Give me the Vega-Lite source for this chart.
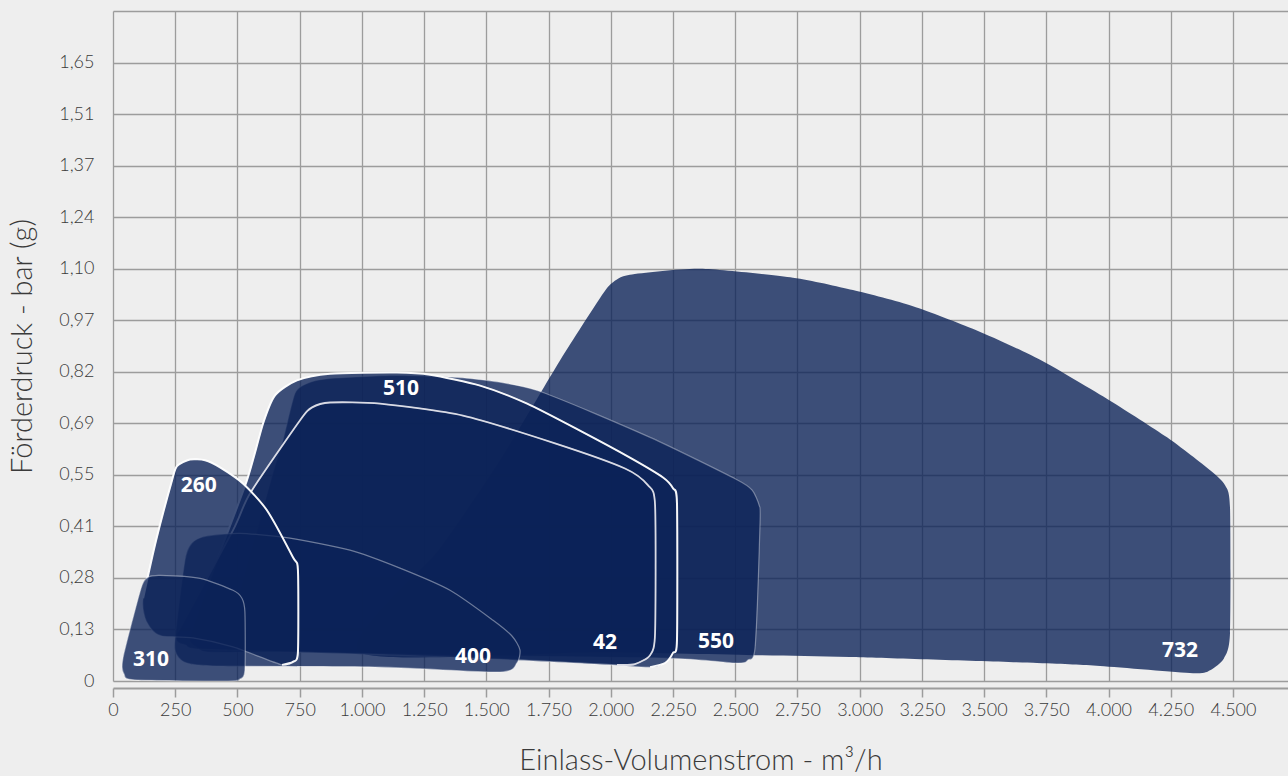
{
  "$schema": "https://vega.github.io/schema/vega-lite/v6.json",
  "width": 1175,
  "height": 670,
  "autosize": {"type": "none"},
  "padding": {"left": 113, "top": 11, "right": 0, "bottom": 95},
  "background": "#eeeeee",
  "config": {
    "view": {"stroke": null},
    "axis": {
      "labelFont": "Lato",
      "titleFont": "Lato",
      "labelColor": "#3a3a3a",
      "titleColor": "#3a3a3a",
      "gridColor": "#9c9c9c",
      "gridWidth": 1.3,
      "labelFontSize": 18,
      "labelFontWeight": 300,
      "titleFontSize": 29,
      "titleFontWeight": 300
    }
  },
  "datasets": {
    "shapes": [
      {"s": "732", "i": 1, "x": 992, "y": 0.077},
      {"s": "732", "i": 2, "x": 1314, "y": 0.354},
      {"s": "732", "i": 3, "x": 1555, "y": 0.589},
      {"s": "732", "i": 4, "x": 1796, "y": 0.855},
      {"s": "732", "i": 5, "x": 1957, "y": 1.022},
      {"s": "732", "i": 6, "x": 2005, "y": 1.062},
      {"s": "732", "i": 7, "x": 2077, "y": 1.084},
      {"s": "732", "i": 8, "x": 2359, "y": 1.1},
      {"s": "732", "i": 9, "x": 2732, "y": 1.076},
      {"s": "732", "i": 10, "x": 2973, "y": 1.043},
      {"s": "732", "i": 11, "x": 3214, "y": 1.0},
      {"s": "732", "i": 12, "x": 3464, "y": 0.937},
      {"s": "732", "i": 13, "x": 3725, "y": 0.857},
      {"s": "732", "i": 14, "x": 4006, "y": 0.748},
      {"s": "732", "i": 15, "x": 4235, "y": 0.65},
      {"s": "732", "i": 16, "x": 4408, "y": 0.562},
      {"s": "732", "i": 17, "x": 4468, "y": 0.522},
      {"s": "732", "i": 18, "x": 4488, "y": 0.463},
      {"s": "732", "i": 19, "x": 4488, "y": 0.128},
      {"s": "732", "i": 20, "x": 4464, "y": 0.061},
      {"s": "732", "i": 21, "x": 4408, "y": 0.029},
      {"s": "732", "i": 22, "x": 4339, "y": 0.021},
      {"s": "732", "i": 23, "x": 3966, "y": 0.04},
      {"s": "732", "i": 24, "x": 3713, "y": 0.048},
      {"s": "732", "i": 25, "x": 2961, "y": 0.064},
      {"s": "732", "i": 26, "x": 2600, "y": 0.069},
      {"s": "732", "i": 27, "x": 1957, "y": 0.077},

      {"s": "550", "i": 1, "x": 462, "y": 0.109},
      {"s": "550", "i": 2, "x": 494, "y": 0.083},
      {"s": "550", "i": 3, "x": 591, "y": 0.08},
      {"s": "550", "i": 4, "x": 1354, "y": 0.069},
      {"s": "550", "i": 5, "x": 2226, "y": 0.061},
      {"s": "550", "i": 6, "x": 2507, "y": 0.048},
      {"s": "550", "i": 7, "x": 2551, "y": 0.056},
      {"s": "550", "i": 8, "x": 2580, "y": 0.091},
      {"s": "550", "i": 9, "x": 2600, "y": 0.429},
      {"s": "550", "i": 10, "x": 2596, "y": 0.469},
      {"s": "550", "i": 11, "x": 2568, "y": 0.509},
      {"s": "550", "i": 12, "x": 2507, "y": 0.537},
      {"s": "550", "i": 13, "x": 2158, "y": 0.65},
      {"s": "550", "i": 14, "x": 1704, "y": 0.775},
      {"s": "550", "i": 15, "x": 1434, "y": 0.807},
      {"s": "550", "i": 16, "x": 1141, "y": 0.815},
      {"s": "550", "i": 17, "x": 872, "y": 0.807},
      {"s": "550", "i": 18, "x": 780, "y": 0.794},
      {"s": "550", "i": 19, "x": 731, "y": 0.767},
      {"s": "550", "i": 20, "x": 683, "y": 0.642},
      {"s": "550", "i": 21, "x": 631, "y": 0.527},

      {"s": "510", "i": 1, "x": 2158, "y": 0.037},
      {"s": "510", "i": 2, "x": 2218, "y": 0.048},
      {"s": "510", "i": 3, "x": 2250, "y": 0.075},
      {"s": "510", "i": 4, "x": 2266, "y": 0.109},
      {"s": "510", "i": 5, "x": 2266, "y": 0.474},
      {"s": "510", "i": 6, "x": 2250, "y": 0.514},
      {"s": "510", "i": 7, "x": 2210, "y": 0.543},
      {"s": "510", "i": 8, "x": 2077, "y": 0.596},
      {"s": "510", "i": 9, "x": 1876, "y": 0.668},
      {"s": "510", "i": 10, "x": 1664, "y": 0.74},
      {"s": "510", "i": 11, "x": 1475, "y": 0.788},
      {"s": "510", "i": 12, "x": 1274, "y": 0.817},
      {"s": "510", "i": 13, "x": 1141, "y": 0.823},
      {"s": "510", "i": 14, "x": 872, "y": 0.82},
      {"s": "510", "i": 15, "x": 739, "y": 0.802},
      {"s": "510", "i": 16, "x": 651, "y": 0.762},
      {"s": "510", "i": 17, "x": 603, "y": 0.687},
      {"s": "510", "i": 18, "x": 538, "y": 0.535},
      {"s": "510", "i": 19, "x": 410, "y": 0.309},
      {"s": "510", "i": 20, "x": 309, "y": 0.123},
      {"s": "510", "i": 21, "x": 342, "y": 0.088},
      {"s": "510", "i": 22, "x": 398, "y": 0.077},
      {"s": "510", "i": 23, "x": 751, "y": 0.077},
      {"s": "510", "i": 24, "x": 1354, "y": 0.067},
      {"s": "510", "i": 25, "x": 1957, "y": 0.045},

      {"s": "42", "i": 1, "x": 2025, "y": 0.043},
      {"s": "42", "i": 2, "x": 2097, "y": 0.045},
      {"s": "42", "i": 3, "x": 2158, "y": 0.069},
      {"s": "42", "i": 4, "x": 2178, "y": 0.128},
      {"s": "42", "i": 5, "x": 2178, "y": 0.469},
      {"s": "42", "i": 6, "x": 2150, "y": 0.522},
      {"s": "42", "i": 7, "x": 2057, "y": 0.567},
      {"s": "42", "i": 8, "x": 1776, "y": 0.634},
      {"s": "42", "i": 9, "x": 1406, "y": 0.708},
      {"s": "42", "i": 10, "x": 1073, "y": 0.74},
      {"s": "42", "i": 11, "x": 872, "y": 0.743},
      {"s": "42", "i": 12, "x": 800, "y": 0.73},
      {"s": "42", "i": 13, "x": 751, "y": 0.695},
      {"s": "42", "i": 14, "x": 551, "y": 0.501},
      {"s": "42", "i": 15, "x": 482, "y": 0.402},
      {"s": "42", "i": 16, "x": 261, "y": 0.131},
      {"s": "42", "i": 17, "x": 293, "y": 0.096},
      {"s": "42", "i": 18, "x": 350, "y": 0.085},
      {"s": "42", "i": 19, "x": 751, "y": 0.077},
      {"s": "42", "i": 20, "x": 1354, "y": 0.064},

      {"s": "400", "i": 1, "x": 289, "y": 0.322},
      {"s": "400", "i": 2, "x": 317, "y": 0.368},
      {"s": "400", "i": 3, "x": 370, "y": 0.386},
      {"s": "400", "i": 4, "x": 510, "y": 0.394},
      {"s": "400", "i": 5, "x": 711, "y": 0.381},
      {"s": "400", "i": 6, "x": 952, "y": 0.349},
      {"s": "400", "i": 7, "x": 1153, "y": 0.301},
      {"s": "400", "i": 8, "x": 1354, "y": 0.242},
      {"s": "400", "i": 9, "x": 1527, "y": 0.162},
      {"s": "400", "i": 10, "x": 1603, "y": 0.12},
      {"s": "400", "i": 11, "x": 1635, "y": 0.083},
      {"s": "400", "i": 12, "x": 1623, "y": 0.048},
      {"s": "400", "i": 13, "x": 1555, "y": 0.024},
      {"s": "400", "i": 14, "x": 1073, "y": 0.037},
      {"s": "400", "i": 15, "x": 418, "y": 0.04},
      {"s": "400", "i": 16, "x": 297, "y": 0.048},
      {"s": "400", "i": 17, "x": 257, "y": 0.069},
      {"s": "400", "i": 18, "x": 249, "y": 0.109},

      {"s": "260", "i": 1, "x": 679, "y": 0.043},
      {"s": "260", "i": 2, "x": 723, "y": 0.051},
      {"s": "260", "i": 3, "x": 743, "y": 0.077},
      {"s": "260", "i": 4, "x": 743, "y": 0.296},
      {"s": "260", "i": 5, "x": 723, "y": 0.33},
      {"s": "260", "i": 6, "x": 619, "y": 0.455},
      {"s": "260", "i": 7, "x": 522, "y": 0.527},
      {"s": "260", "i": 8, "x": 430, "y": 0.57},
      {"s": "260", "i": 9, "x": 370, "y": 0.589},
      {"s": "260", "i": 10, "x": 309, "y": 0.591},
      {"s": "260", "i": 11, "x": 257, "y": 0.573},
      {"s": "260", "i": 12, "x": 237, "y": 0.535},
      {"s": "260", "i": 13, "x": 173, "y": 0.375},
      {"s": "260", "i": 14, "x": 121, "y": 0.221},
      {"s": "260", "i": 15, "x": 129, "y": 0.168},
      {"s": "260", "i": 16, "x": 157, "y": 0.136},
      {"s": "260", "i": 17, "x": 197, "y": 0.12},
      {"s": "260", "i": 18, "x": 321, "y": 0.115},
      {"s": "260", "i": 19, "x": 482, "y": 0.091},

      {"s": "310", "i": 1, "x": 40, "y": 0.061},
      {"s": "310", "i": 2, "x": 113, "y": 0.248},
      {"s": "310", "i": 3, "x": 141, "y": 0.277},
      {"s": "310", "i": 4, "x": 189, "y": 0.282},
      {"s": "310", "i": 5, "x": 350, "y": 0.274},
      {"s": "310", "i": 6, "x": 482, "y": 0.242},
      {"s": "310", "i": 7, "x": 518, "y": 0.221},
      {"s": "310", "i": 8, "x": 530, "y": 0.184},
      {"s": "310", "i": 9, "x": 530, "y": 0.029},
      {"s": "310", "i": 10, "x": 510, "y": 0.005},
      {"s": "310", "i": 11, "x": 462, "y": 0},
      {"s": "310", "i": 12, "x": 88, "y": 0.003},
      {"s": "310", "i": 13, "x": 44, "y": 0.019}
    ],
    "labels": [
      {"t": "510", "x": 1157, "y": 0.78},
      {"t": "42", "x": 1977, "y": 0.101},
      {"t": "550", "x": 2423, "y": 0.104},
      {"t": "732", "x": 4287, "y": 0.08},
      {"t": "400", "x": 1446, "y": 0.064},
      {"t": "260", "x": 345, "y": 0.519},
      {"t": "310", "x": 153, "y": 0.056}
    ]
  },
  "encoding": {
    "x": {
      "field": "x",
      "type": "quantitative",
      "scale": {"domain": [0, 4721], "nice": false, "zero": false},
      "axis": {
        "values": [0, 250, 500, 750, 1000, 1250, 1500, 1750, 2000, 2250, 2500, 2750, 3000, 3250, 3500, 3750, 4000, 4250, 4500],
        "labelExpr": "replace(format(datum.value, ','), ',', '.')",
        "offset": 7,
        "domainColor": "#9c9c9c",
        "domainWidth": 2,
        "tickColor": "#9c9c9c",
        "tickWidth": 1.5,
        "tickSize": 9,
        "labelPadding": 4,
        "labelFlush": false,
        "labelOverlap": false,
        "title": "Einlass-Volumenstrom - m³/h",
        "titlePadding": 27
      }
    },
    "y": {
      "field": "y",
      "type": "quantitative",
      "scale": {"domain": [0, 1.7875], "nice": false, "zero": false},
      "axis": {
        "values": [0, 0.1375, 0.275, 0.4125, 0.55, 0.6875, 0.825, 0.9625, 1.1, 1.2375, 1.375, 1.5125, 1.65, 1.7875],
        "labelExpr": "['0','0,13','0,28','0,41','0,55','0,69','0,82','0,97','1,10','1,24','1,37','1,51','1,65',''][round(datum.value/0.1375)]",
        "domain": false,
        "ticks": false,
        "labelPadding": 19,
        "labelFlush": false,
        "labelOverlap": false,
        "title": "Förderdruck - bar (g)",
        "titlePadding": 21
      }
    }
  },
  "layer": [
    {
      "data": {"name": "shapes"},
      "transform": [{"filter": "datum.s == '732'"}],
      "mark": {"type": "line", "interpolate": "cardinal-closed", "tension": 0.3, "fill": "#0c2258", "fillOpacity": 0.79, "stroke": "#0c2258", "strokeOpacity": 0, "strokeWidth": 0},
      "encoding": {"order": {"field": "i", "type": "quantitative"}}
    },
    {
      "data": {"name": "shapes"},
      "transform": [{"filter": "datum.s == '550'"}],
      "mark": {"type": "line", "interpolate": "cardinal-closed", "tension": 0.3, "fill": "#0c2258", "fillOpacity": 0.79, "stroke": "#ffffff", "strokeOpacity": 0.35, "strokeWidth": 1.2},
      "encoding": {"order": {"field": "i", "type": "quantitative"}}
    },
    {
      "data": {"name": "shapes"},
      "transform": [{"filter": "datum.s == '510'"}],
      "mark": {"type": "line", "interpolate": "cardinal-closed", "tension": 0.3, "fill": "#0c2258", "fillOpacity": 0.79, "stroke": "#ffffff", "strokeOpacity": 0.3, "strokeWidth": 1.2},
      "encoding": {"order": {"field": "i", "type": "quantitative"}}
    },
    {
      "data": {"name": "shapes"},
      "transform": [{"filter": "datum.s == '510' && datum.i <= 20"}],
      "mark": {"type": "line", "interpolate": "cardinal", "tension": 0.3, "stroke": "#ffffff", "strokeOpacity": 0.95, "strokeWidth": 2},
      "encoding": {"order": {"field": "i", "type": "quantitative"}}
    },
    {
      "data": {"name": "shapes"},
      "transform": [{"filter": "datum.s == '42'"}],
      "mark": {"type": "line", "interpolate": "cardinal-closed", "tension": 0.3, "fill": "#0c2258", "fillOpacity": 0.79, "stroke": "#ffffff", "strokeOpacity": 0.3, "strokeWidth": 1.2},
      "encoding": {"order": {"field": "i", "type": "quantitative"}}
    },
    {
      "data": {"name": "shapes"},
      "transform": [{"filter": "datum.s == '42' && datum.i <= 16"}],
      "mark": {"type": "line", "interpolate": "cardinal", "tension": 0.3, "stroke": "#e8e8ee", "strokeOpacity": 0.9, "strokeWidth": 1.8},
      "encoding": {"order": {"field": "i", "type": "quantitative"}}
    },
    {
      "data": {"name": "shapes"},
      "transform": [{"filter": "datum.s == '400'"}],
      "mark": {"type": "line", "interpolate": "cardinal-closed", "tension": 0.3, "fill": "#0c2258", "fillOpacity": 0.79, "stroke": "#ffffff", "strokeOpacity": 0.4, "strokeWidth": 1.2},
      "encoding": {"order": {"field": "i", "type": "quantitative"}}
    },
    {
      "data": {"name": "shapes"},
      "transform": [{"filter": "datum.s == '260'"}],
      "mark": {"type": "line", "interpolate": "cardinal-closed", "tension": 0.3, "fill": "#0c2258", "fillOpacity": 0.79, "stroke": "#ffffff", "strokeOpacity": 0.35, "strokeWidth": 1.2},
      "encoding": {"order": {"field": "i", "type": "quantitative"}}
    },
    {
      "data": {"name": "shapes"},
      "transform": [{"filter": "datum.s == '260' && datum.i <= 14"}],
      "mark": {"type": "line", "interpolate": "cardinal", "tension": 0.3, "stroke": "#ffffff", "strokeOpacity": 0.95, "strokeWidth": 2},
      "encoding": {"order": {"field": "i", "type": "quantitative"}}
    },
    {
      "data": {"name": "shapes"},
      "transform": [{"filter": "datum.s == '310'"}],
      "mark": {"type": "line", "interpolate": "cardinal-closed", "tension": 0.3, "fill": "#0c2258", "fillOpacity": 0.79, "stroke": "#ffffff", "strokeOpacity": 0.4, "strokeWidth": 1.2},
      "encoding": {"order": {"field": "i", "type": "quantitative"}}
    },
    {
      "data": {"name": "labels"},
      "mark": {"type": "text", "font": "Open Sans", "fontWeight": "bold", "fontSize": 21, "color": "#ffffff", "align": "center", "baseline": "middle"},
      "encoding": {"text": {"field": "t", "type": "nominal"}}
    }
  ]
}
